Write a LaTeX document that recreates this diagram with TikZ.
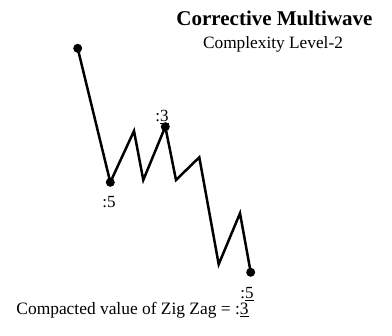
\documentclass[tikz,border=0pt]{standalone}
\usepackage{fontspec}
\setmainfont{Liberation Serif}
\begin{document}
\begin{tikzpicture}[x=1pt,y=-1pt,
  wave/.style={line width=2.5pt, line join=miter},
  dot/.style={circle, fill=black, inner sep=0pt, minimum size=9pt},
  lbl/.style={inner sep=0pt, font=\fontsize{17}{17}\selectfont}]
\useasboundingbox (0,0) rectangle (392,336);
\coordinate (p0) at (77.7,48.3);
\coordinate (p1) at (110.3,182.3);
\coordinate (p2) at (134,131);
\coordinate (p3) at (143.3,180);
\coordinate (p4) at (165.3,126.7);
\coordinate (p5) at (176,180);
\coordinate (p6) at (199.3,157.3);
\coordinate (p7) at (218.7,264.3);
\coordinate (p8) at (240,213.3);
\coordinate (p9) at (250.7,272.3);
\draw[wave] (p0) -- (p1) -- (p2) -- (p3) -- (p4) -- (p5) -- (p6) -- (p7) -- (p8) -- (p9);
\node[dot] (d0) at (p0) {};
\node[dot] (d1) at (p1) {};
\node[dot] (d4) at (p4) {};
\node[dot] (d9) at (p9) {};
\node[lbl] (l4) at (162,117) {:\underline{3}};
\node[lbl] (l1) at (109,202) {:5};
\node[lbl] (l9) at (247,294) {:\underline{5}};
\node[inner sep=0pt, font=\fontsize{21}{21}\selectfont\bfseries] (title) at (274.5,18) {Corrective Multiwave};
\node[inner sep=0pt, font=\fontsize{17.3}{17.3}\selectfont] (sub) at (273,44) {Complexity Level-2};
\node[inner sep=0pt, font=\fontsize{17.4}{17.4}\selectfont] (bottom) at (132.5,310) {Compacted value of Zig Zag = :\underline{3}};
\end{tikzpicture}
\end{document}
